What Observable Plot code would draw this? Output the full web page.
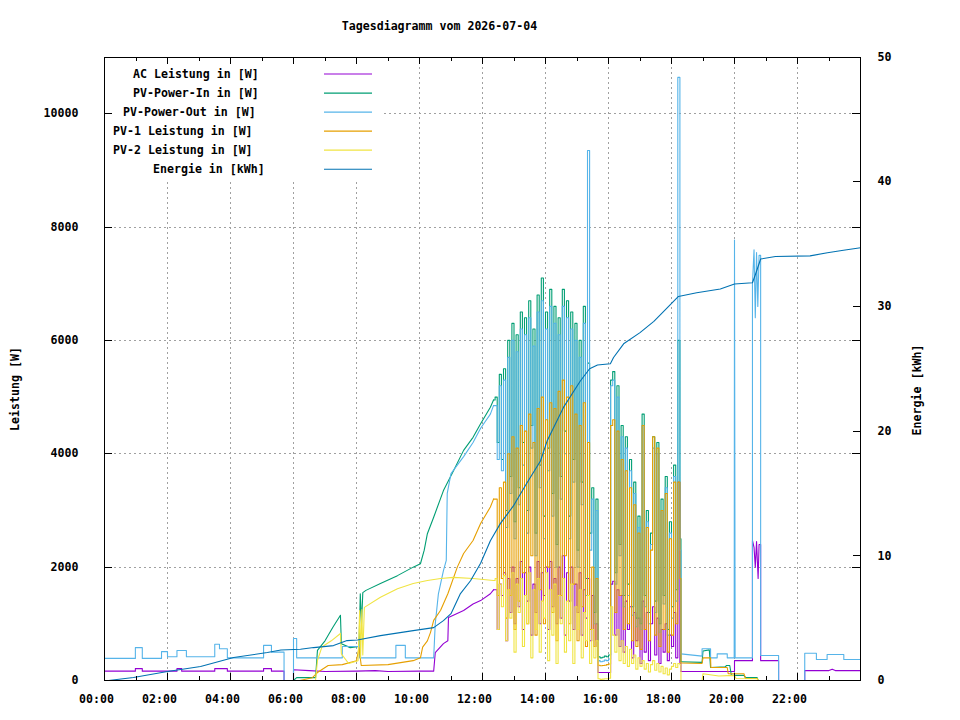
<!DOCTYPE html>
<html>
<head>
<meta charset="utf-8">
<script src="https://cdn.jsdelivr.net/npm/d3@7"></script>
<script src="https://cdn.jsdelivr.net/npm/@observablehq/plot@0.6"></script>
<style>
  html, body { margin: 0; padding: 0; background: #fff; }
  #chart svg { display: block; }
</style>
</head>
<body>
<div id="chart"></div>
<script>
// ---------- texts ----------
const titleText = "Tagesdiagramm vom 2026-07-04";
const leftLabel = "Leistung [W]";
const rightLabel = "Energie [kWh]";
const seriesLabels = ["AC Leistung in [W]", "PV-Power-In in [W]", "PV-Power-Out in [W]", "PV-1 Leistung in [W]", "PV-2 Leistung in [W]", "Energie in [kWh]"];
const seriesColors = ["#9400d3", "#009e73", "#56b4e9", "#e69f00", "#f0e442", "#0072b2"];

// ---------- ticks ----------
const hourTicks = [0, 2, 4, 6, 8, 10, 12, 14, 16, 18, 20, 22];
const hourMinorTicks = [1, 3, 5, 7, 9, 11, 13, 15, 17, 19, 21, 23];
const wattTicks = [0, 2000, 4000, 6000, 8000, 10000];
const kwhTicks = [0, 10, 20, 30, 40, 50];

// ---------- data: [hour, watt] before the cloudy phase ----------
const acBefore = [[0,165],[0.98,165],[0.98,210],[1.2,210],[1.2,165],[2.3,165],[2.3,210],[2.45,210],[2.45,165],[3.5,165],[3.5,210],[3.9,210],[3.9,165],[5.05,165],[5.05,210],[5.3,210],[5.3,165],[5.7,165],[5.7,0],[6.0,0],[6.0,190],[6.5,175],[7.0,160],[8.0,165],[8.6,175],[9.0,160],[10.0,165],[10.45,165],[10.5,490],[10.76,650],[10.9,700],[10.92,1110],[11.4,1235],[11.7,1350],[11.94,1410],[12.25,1530],[12.35,1600]];
const pvInBefore = [[6.0,0],[6.1,50],[6.7,50],[6.76,530],[7.0,700],[7.25,940],[7.49,1150],[7.52,650],[7.8,580],[8.08,600],[8.12,1530],[8.16,1000],[8.2,1550],[8.3,1590],[8.76,1710],[9.3,1850],[9.8,2000],[10.03,2060],[10.15,2300],[10.25,2590],[10.45,2880],[10.76,3350],[11.08,3700],[11.4,4060],[11.7,4290],[11.94,4530],[12.25,4820],[12.35,4950]];
const pvOutBefore = [[0,390],[0.98,390],[0.98,580],[1.2,580],[1.2,390],[1.81,390],[1.81,510],[2.0,510],[2.0,420],[2.3,420],[2.3,530],[2.6,530],[2.6,420],[3.5,420],[3.5,640],[3.65,640],[3.65,560],[3.9,560],[3.9,400],[5.05,400],[5.05,620],[5.3,620],[5.3,500],[5.7,500],[5.7,0],[6.0,0],[6.0,740],[6.1,740],[6.1,400],[7.55,400],[7.55,600],[8.1,600],[8.1,400],[9.25,400],[9.25,620],[9.55,620],[9.55,400],[10.45,400],[10.5,1000],[10.6,1530],[10.76,1940],[10.85,2120],[10.88,3300],[11.0,3650],[11.4,3950],[11.7,4200],[11.94,4450],[12.25,4700],[12.35,4850]];
const pv1Before = [[6.2,0],[6.6,50],[6.76,140],[7.1,265],[7.55,280],[8.0,350],[8.08,580],[8.15,265],[9.0,280],[9.8,350],[10.03,400],[10.1,590],[10.25,700],[10.35,850],[10.45,1060],[10.67,1240],[10.9,1530],[11.2,2000],[11.4,2240],[11.7,2470],[11.94,2770],[12.25,3060],[12.35,3200]];
const pv2Before = [[6.0,0],[6.7,0],[6.76,350],[6.9,590],[7.2,700],[7.49,830],[7.52,470],[7.75,300],[8.05,350],[8.1,1235],[8.13,400],[8.17,1250],[8.2,450],[8.25,1290],[8.76,1470],[9.3,1620],[9.8,1710],[10.25,1765],[10.67,1800],[11.08,1820],[11.7,1800],[12.35,1765]];

// ---------- data: cloudy phase, one value every 4 minutes from 12:24 ----------
const spikeStartHour = 12.4;
const spikeStepHours = 4 / 60;
const acSpike = [1600,900,1700,1500,1900,700,1800,1200,2000,1000,
 1800,1300,2100,900,1900,1400,2000,800,1700,1200,
 2100,1000,1900,1500,2000,900,2100,1300,1800,1000,
 2000,1100,2200,800,1900,1400,2000,900,1700,1200,
 1900,800,1600,1100,1800,700,1500,600,1000,140,
 140,140,140,140,140,1700,1750,800,1600,600,
 1500,500,1400,900,1300,400,1200,700,1100,300,
 1400,500,1200,350,1000,1300,450,1100,300,900,
 500,1000,350,800,600,1200,400,3500,300];
const pvInSpike = [5000,4200,5400,3900,5500,3000,6000,3600,6300,2800,
 6100,3400,6500,4200,6400,3000,6700,4500,6200,2600,
 6800,3800,7100,2900,6500,4100,6900,3300,6600,2400,
 6400,3600,6900,4400,6700,2900,6500,3900,6300,2300,
 6000,3500,6600,1800,5600,2600,3400,1200,3200,420,
 400,410,430,420,450,5300,5450,1900,5200,2400,
 4500,1500,4300,1700,3900,1300,3500,1100,2900,1000,
 4700,1500,3000,1200,2600,4300,1400,4200,1000,3200,
 1500,3600,900,2800,1300,3800,1600,6000,2500];
const pvOutSpike = [4850,3900,5200,3700,5300,2700,5700,3300,6000,2500,
 5800,3100,6200,3800,6100,2600,6400,4100,5900,2200,
 6500,3400,6700,2500,6200,3700,6600,2900,6300,2000,
 6100,3200,6600,4000,6400,2500,6200,3500,6000,2000,
 5700,3100,6300,1500,9350,2300,3200,1000,3000,350,
 330,340,360,350,380,5200,5300,1700,5000,2200,
 4300,1300,4100,1500,3700,1150,3300,950,2700,900,
 4500,1300,2800,1000,2400,4100,1200,4000,850,3000,
 1350,3400,800,2600,1100,3600,1400,10640,2300];
const pv1Spike = [3200,1500,3400,1800,3500,1100,4000,1500,4300,900,
 4100,1400,4500,1900,4400,1000,4700,2200,4200,800,
 4800,1600,5000,1000,4600,2000,4900,1200,4800,700,
 5100,1500,5300,2200,5000,1000,5200,1700,4700,700,
 4500,1300,4900,600,4200,900,2000,600,1800,270,
 260,265,270,280,290,4500,4600,1200,4400,1500,
 3900,900,3700,1000,3400,700,3100,600,2600,550,
 4500,900,2700,700,2300,4300,800,4100,600,3000,
 900,3300,500,2500,800,3500,1000,3500,1800];
const pv2Spike = [1800,900,1700,1300,1850,700,1600,1100,1900,500,
 1700,1200,1800,600,1500,1000,1900,400,1600,900,
 1800,500,1400,1100,1900,350,1600,800,1700,300,
 1500,1000,1800,500,1400,700,1700,300,1300,900,
 1600,400,1200,700,1500,300,900,400,700,30,
 20,25,30,30,40,1300,800,500,900,350,
 700,300,600,250,550,300,450,200,400,250,
 350,200,300,150,280,350,180,300,150,250,
 120,220,100,200,250,300,230,300,280];

// ---------- data: [hour, watt] evening ----------
const acAfter = [[18.3,160],[20.0,160],[20.0,350],[20.57,350],[20.57,2470],[20.62,2350],[20.66,2000],[20.7,2450],[20.75,1800],[20.78,2400],[20.83,2400],[20.83,350],[21.4,350],[21.4,0],[22.23,0],[22.23,175],[23.0,175],[23.1,200],[23.2,175],[24,175]];
const pvInAfter = [[18.3,330],[18.97,320],[19.0,520],[19.2,540],[19.24,230],[19.7,240],[19.75,265],[19.85,265],[19.9,90],[20.3,90],[20.35,50],[20.72,50],[20.75,0]];
const pvOutAfter = [[18.3,470],[18.97,430],[18.97,560],[19.24,560],[19.24,400],[19.45,400],[19.45,470],[19.77,470],[19.77,400],[19.99,400],[20.0,7770],[20.02,400],[20.57,400],[20.57,7000],[20.62,7600],[20.66,6400],[20.7,7550],[20.74,6600],[20.78,7500],[20.83,7500],[20.83,440],[21.4,440],[21.4,0],[22.23,0],[22.23,480],[22.6,480],[22.6,370],[22.94,370],[22.94,460],[23.47,460],[23.47,370],[24,370]];
const pv1After = [[18.3,310],[18.97,300],[19.0,400],[19.24,400],[19.25,230],[19.77,230],[19.8,120],[20.3,120],[20.35,35],[20.72,35],[20.75,0]];
const pv2After = [[18.3,0],[18.97,0],[19.0,120],[19.5,80],[20.0,90],[20.05,35],[20.72,30],[20.75,0]];

// ---------- data: energy [hour, kWh] ----------
const energyKwh = [[0,0],[0.13,0],[0.92,0.24],[2.0,0.72],[3.05,1.12],[4.1,1.84],[5.17,2.24],[5.6,2.45],[6.22,2.5],[6.64,2.64],[7.27,2.8],[7.7,3.2],[8.03,3.25],[8.76,3.6],[9.8,4.0],[10.45,4.24],[10.76,4.8],[11.0,5.36],[11.3,6.97],[11.62,8.0],[11.94,9.4],[12.25,11.2],[12.57,12.6],[12.98,14.0],[13.4,15.8],[13.84,17.6],[14.05,19.2],[14.57,21.9],[15.1,24.0],[15.4,25.0],[15.65,25.3],[16.06,25.4],[16.16,25.9],[16.48,27.0],[17.0,27.9],[17.44,28.8],[17.87,29.9],[18.22,30.8],[18.8,31.1],[19.55,31.4],[20.0,31.8],[20.57,31.9],[20.67,32.6],[20.83,33.8],[21.3,34.0],[22.4,34.05],[22.95,34.3],[23.46,34.5],[24,34.7]];

// ---------- build ----------
const kwhToAxis = 11000 / 50; // right axis 0..50 kWh shares the pixel range of 0..11000 W
const toRows = pairs => pairs.map(([h, v]) => ({h, v}));
function seriesParts(before, spike, after) {
  const spikeRows = spike.map((v, i) => ({h: spikeStartHour + i * spikeStepHours, v}));
  const b = toRows(before), a = toRows(after);
  return {
    smooth: [b, a],
    spiky: [b[b.length - 1], ...spikeRows, a[0]]
  };
}
const powerSeries = [
  seriesParts(acBefore, acSpike, acAfter),
  seriesParts(pvInBefore, pvInSpike, pvInAfter),
  seriesParts(pvOutBefore, pvOutSpike, pvOutAfter),
  seriesParts(pv1Before, pv1Spike, pv1After),
  seriesParts(pv2Before, pv2Spike, pv2After)
];
const energyRows = energyKwh.map(([h, k]) => ({h, v: k * kwhToAxis}));

const W = 960, H = 720, mT = 56.5, mB = 40, mL = 104, mR = 100;
const frameW = W - mL - mR, frameH = H - mT - mB;
const FONT = "'DejaVu Sans Mono', 'Liberation Mono', monospace";
const gridStyle = {stroke: "#a0a0a0", strokeWidth: 1, strokeDasharray: "2,3", shapeRendering: "crispEdges"};
const crisp = {shapeRendering: "crispEdges"};

function legendMark() {
  const g = d3.create("svg:g")
    .attr("font-family", FONT).attr("font-size", "11.6px").attr("font-weight", "bold");
  g.append("rect").attr("x", mL + 0.5).attr("y", mT + 0.5).attr("width", 277).attr("height", 123).attr("fill", "white");
  const textX = [133, 133, 123, 113, 113, 153];
  seriesLabels.forEach((label, i) => {
    const y = 74 + i * 19.05;
    g.append("text").attr("x", textX[i]).attr("y", y + 3.5).attr("text-anchor", "start").attr("fill", "black").text(label);
    g.append("line").attr("x1", 324).attr("x2", 372).attr("y1", y).attr("y2", y)
      .attr("stroke", seriesColors[i]).attr("stroke-width", 1.2);
  });
  return g.node();
}

function labelsMark() {
  const g = d3.create("svg:g")
    .attr("font-family", FONT).attr("font-size", "11.6px").attr("font-weight", "bold").attr("fill", "black");
  g.append("text").attr("x", 439.5).attr("y", 30).attr("text-anchor", "middle").text(titleText);
  g.append("text").attr("transform", "translate(18.5,389) rotate(-90)").attr("text-anchor", "middle").text(leftLabel);
  g.append("text").attr("transform", "translate(920.5,390) rotate(-90)").attr("text-anchor", "middle").text(rightLabel);
  return g.node();
}

const dataMarks = [];
powerSeries.forEach((s, i) => {
  s.smooth.forEach(rows => dataMarks.push(Plot.line(rows, {x: "h", y: "v", stroke: seriesColors[i], strokeWidth: 1.1})));
  dataMarks.push(Plot.line(s.spiky, {x: "h", y: "v", stroke: seriesColors[i], strokeWidth: 1.1, curve: "step-after"}));
});
dataMarks.push(Plot.line(energyRows, {x: "h", y: "v", stroke: seriesColors[5], strokeWidth: 1.1}));

const chart = Plot.plot({
  width: W, height: H,
  marginTop: mT, marginBottom: mB, marginLeft: mL, marginRight: mR,
  x: {domain: [0, 24]},
  y: {domain: [0, 11000]},
  style: {fontFamily: FONT, fontSize: "11.6px", fontWeight: "bold", background: "white", color: "black"},
  marks: [
    Plot.ruleX(hourTicks.filter(h => h > 0), gridStyle),
    Plot.ruleY(wattTicks.filter(w => w > 0), gridStyle),
    legendMark,
    ...dataMarks,
    // inward ticks
    Plot.ruleX(hourTicks, {stroke: "black", insetTop: frameH - 7, ...crisp}),
    Plot.ruleX(hourMinorTicks, {stroke: "black", insetTop: frameH - 4, ...crisp}),
    Plot.ruleX(hourTicks, {stroke: "black", insetBottom: frameH - 7, ...crisp}),
    Plot.ruleX(hourMinorTicks, {stroke: "black", insetBottom: frameH - 4, ...crisp}),
    Plot.ruleY(wattTicks, {stroke: "black", insetRight: frameW - 8, ...crisp}),
    Plot.ruleY(wattTicks, {stroke: "black", insetLeft: frameW - 8, ...crisp}),
    Plot.ruleY(kwhTicks.map(k => k * kwhToAxis), {stroke: "black", insetLeft: frameW - 7, ...crisp}),
    Plot.frame({stroke: "black", ...crisp}),
    Plot.axisX(hourTicks, {anchor: "bottom", tickSize: 0, tickPadding: 14, dx: -8, label: null,
      tickFormat: h => String(h).padStart(2, "0") + ":00"}),
    Plot.axisY(wattTicks, {anchor: "left", tickSize: 0, tickPadding: 26, label: null, tickFormat: d => String(d)}),
    Plot.axisY(kwhTicks.map(k => k * kwhToAxis), {anchor: "right", tickSize: 0, tickPadding: 17, label: null,
      tickFormat: d => String(Math.round(d / kwhToAxis))}),
    labelsMark
  ]
});
document.getElementById("chart").appendChild(chart);
</script>
</body>
</html>
